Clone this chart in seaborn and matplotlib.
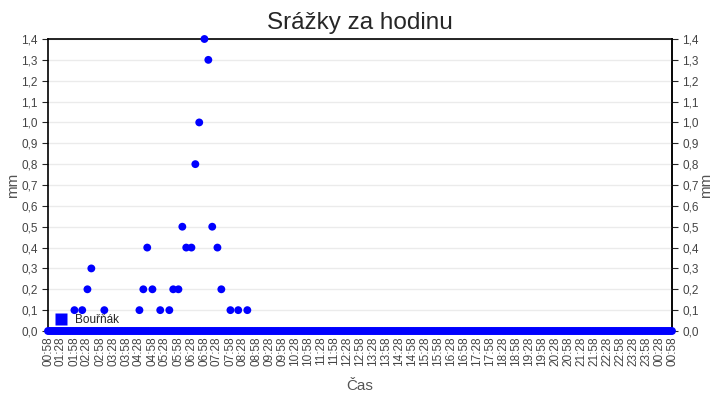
import matplotlib
matplotlib.use("Agg")
import matplotlib.dates as mdates
import matplotlib.pyplot as plt
import pandas as pd
import seaborn as sns
from matplotlib.lines import Line2D
from matplotlib.ticker import FuncFormatter, MultipleLocator

# hourly rainfall readings (mm), only the non-zero ones
rain_times = ["01:59", "02:17", "02:29", "02:38", "03:08",
              "04:29", "04:38", "04:47", "04:59", "05:17", "05:38", "05:47", "05:59",
              "06:08", "06:17", "06:29", "06:38", "06:47", "06:59",
              "07:08", "07:17", "07:29", "07:38", "07:59", "08:17", "08:38"]
rain_values = [0.1, 0.1, 0.2, 0.3, 0.1,
               0.1, 0.2, 0.4, 0.2, 0.1, 0.1, 0.2, 0.2,
               0.5, 0.4, 0.4, 0.8, 1.0, 1.4,
               1.3, 0.5, 0.4, 0.2, 0.1, 0.1, 0.1]
station = "Bouřňák"
day = "2024-06-01"

start = pd.Timestamp(f"{day} 00:58")
end = start + pd.Timedelta(hours=24)

# dry reports every few minutes through the whole day, plus the wet ones
dry = pd.DataFrame({"time": pd.date_range(start, end, freq="4min"), "mm": 0.0})
wet = pd.DataFrame({"time": [pd.Timestamp(f"{day} {t}") for t in rain_times],
                    "mm": rain_values})
df = pd.concat([dry, wet], ignore_index=True)

sns.set_style("white")
plt.rcParams["font.family"] = ["Liberation Sans", "DejaVu Sans"]

fig = plt.figure(figsize=(7.2, 4), dpi=100)
ax = fig.add_axes([48 / 720, 1 - 331 / 400, 624 / 720, 292 / 400])

# right-hand copy of the mm scale, kept under the main axes
ax2 = ax.twinx()
ax.set_zorder(ax2.get_zorder() + 1)
ax.patch.set_visible(False)
ax2.set_ylim(0, 1.4)

sns.scatterplot(data=df, x="time", y="mm", ax=ax, color="#0000ff", s=32,
                edgecolor="none", clip_on=False, zorder=3, legend=False)

ax.set_xlim(start, end)
ax.set_ylim(0, 1.4)
comma = FuncFormatter(lambda v, _: f"{v:.1f}".replace(".", ","))
for a in (ax, ax2):
    a.yaxis.set_major_locator(MultipleLocator(0.1))
    a.yaxis.set_major_formatter(comma)
    a.tick_params(axis="y", direction="out", length=4, labelsize=8.5,
                  labelcolor="#444444")
ax.grid(axis="y", color="#ebebeb", lw=1)
ax.set_axisbelow(True)

ax.set_xticks(pd.date_range(start, end, freq="30min"))
ax.xaxis.set_major_formatter(mdates.DateFormatter("%H:%M"))
ax.tick_params(axis="x", direction="in", length=5.5, width=1, color="#333333",
               rotation=90, labelsize=8.5, labelcolor="#444444", pad=4)

for s in ax.spines.values():
    s.set_color("black")
    s.set_linewidth(1.2)
for name, s in ax2.spines.items():
    s.set_visible(name == "right")
    s.set_linewidth(1.2)

ax.set_xlabel("Čas", fontsize=11, color="#555555", labelpad=9)
ax.set_ylabel("mm", fontsize=11, color="#555555")
ax2.set_ylabel("mm", fontsize=11, color="#555555")
ax.yaxis.set_label_coords(-0.044, 0.5)
ax2.yaxis.set_label_coords(1.044, 0.5)
ax.set_title("Srážky za hodinu", fontsize=17.5, pad=7)

handle = Line2D([], [], marker="s", color="none", markerfacecolor="#0000ff",
                markeredgecolor="none", markersize=9)
ax.legend([handle], [station], loc="lower left", bbox_to_anchor=(0.0, -0.012),
          frameon=False, fontsize=8.5, handlelength=0.8, handletextpad=0.8,
          borderaxespad=0.3)

fig.savefig("out.png", dpi=100)
